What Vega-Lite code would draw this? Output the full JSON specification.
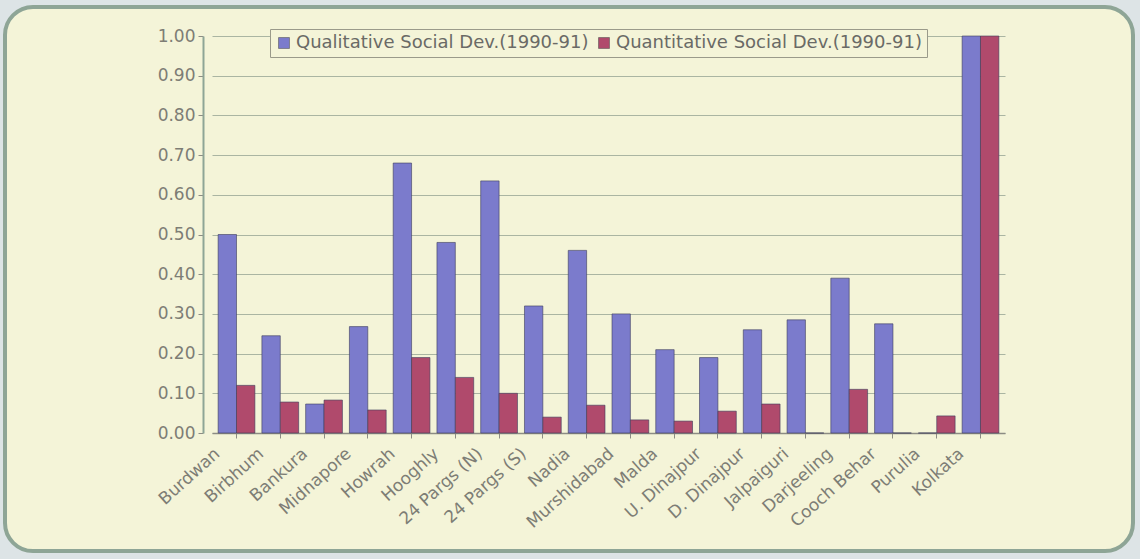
{
  "$schema": "https://vega.github.io/schema/vega-lite/v6.json",
  "width": 1128,
  "height": 544,
  "autosize": {"type": "none"},
  "padding": {"left": 5, "top": 7, "right": 7, "bottom": 8},
  "background": "#dde4e6",
  "config": {
    "view": {"fill": "#f4f4d8", "stroke": "#8ea596", "strokeWidth": 4, "cornerRadius": 28},
    "font": "DejaVu Sans"
  },
  "data": {
    "values": [
      {"district": "Burdwan", "series": "Qualitative Social Dev.(1990-91)", "value": 0.50},
      {"district": "Burdwan", "series": "Quantitative Social Dev.(1990-91)", "value": 0.12},
      {"district": "Birbhum", "series": "Qualitative Social Dev.(1990-91)", "value": 0.245},
      {"district": "Birbhum", "series": "Quantitative Social Dev.(1990-91)", "value": 0.078},
      {"district": "Bankura", "series": "Qualitative Social Dev.(1990-91)", "value": 0.073},
      {"district": "Bankura", "series": "Quantitative Social Dev.(1990-91)", "value": 0.083},
      {"district": "Midnapore", "series": "Qualitative Social Dev.(1990-91)", "value": 0.268},
      {"district": "Midnapore", "series": "Quantitative Social Dev.(1990-91)", "value": 0.058},
      {"district": "Howrah", "series": "Qualitative Social Dev.(1990-91)", "value": 0.68},
      {"district": "Howrah", "series": "Quantitative Social Dev.(1990-91)", "value": 0.19},
      {"district": "Hooghly", "series": "Qualitative Social Dev.(1990-91)", "value": 0.48},
      {"district": "Hooghly", "series": "Quantitative Social Dev.(1990-91)", "value": 0.14},
      {"district": "24 Pargs (N)", "series": "Qualitative Social Dev.(1990-91)", "value": 0.635},
      {"district": "24 Pargs (N)", "series": "Quantitative Social Dev.(1990-91)", "value": 0.10},
      {"district": "24 Pargs (S)", "series": "Qualitative Social Dev.(1990-91)", "value": 0.32},
      {"district": "24 Pargs (S)", "series": "Quantitative Social Dev.(1990-91)", "value": 0.04},
      {"district": "Nadia", "series": "Qualitative Social Dev.(1990-91)", "value": 0.46},
      {"district": "Nadia", "series": "Quantitative Social Dev.(1990-91)", "value": 0.07},
      {"district": "Murshidabad", "series": "Qualitative Social Dev.(1990-91)", "value": 0.30},
      {"district": "Murshidabad", "series": "Quantitative Social Dev.(1990-91)", "value": 0.033},
      {"district": "Malda", "series": "Qualitative Social Dev.(1990-91)", "value": 0.21},
      {"district": "Malda", "series": "Quantitative Social Dev.(1990-91)", "value": 0.03},
      {"district": "U. Dinajpur", "series": "Qualitative Social Dev.(1990-91)", "value": 0.19},
      {"district": "U. Dinajpur", "series": "Quantitative Social Dev.(1990-91)", "value": 0.055},
      {"district": "D. Dinajpur", "series": "Qualitative Social Dev.(1990-91)", "value": 0.26},
      {"district": "D. Dinajpur", "series": "Quantitative Social Dev.(1990-91)", "value": 0.073},
      {"district": "Jalpaiguri", "series": "Qualitative Social Dev.(1990-91)", "value": 0.285},
      {"district": "Jalpaiguri", "series": "Quantitative Social Dev.(1990-91)", "value": 0.0},
      {"district": "Darjeeling", "series": "Qualitative Social Dev.(1990-91)", "value": 0.39},
      {"district": "Darjeeling", "series": "Quantitative Social Dev.(1990-91)", "value": 0.11},
      {"district": "Cooch Behar", "series": "Qualitative Social Dev.(1990-91)", "value": 0.275},
      {"district": "Cooch Behar", "series": "Quantitative Social Dev.(1990-91)", "value": 0.0},
      {"district": "Purulia", "series": "Qualitative Social Dev.(1990-91)", "value": 0.0},
      {"district": "Purulia", "series": "Quantitative Social Dev.(1990-91)", "value": 0.043},
      {"district": "Kolkata", "series": "Qualitative Social Dev.(1990-91)", "value": 1.0},
      {"district": "Kolkata", "series": "Quantitative Social Dev.(1990-91)", "value": 1.0}
    ]
  },
  "mark": {"type": "bar", "stroke": "#3c3c5a", "strokeWidth": 0.6},
  "encoding": {
    "x": {
      "field": "district",
      "type": "nominal",
      "sort": null,
      "scale": {"range": [207, 1000], "paddingInner": 0.16, "paddingOuter": 0.14},
      "axis": {
        "title": null,
        "offset": -118,
        "labelAngle": -42,
        "labelAlign": "right",
        "labelBaseline": "middle",
        "labelOffset": -19,
        "labelPadding": 13,
        "labelFontSize": 17,
        "labelColor": "#7d7d75",
        "domainColor": "#8c8c84",
        "domainWidth": 1.5,
        "tickColor": "#8c8c84",
        "tickSize": 5,
        "grid": false
      }
    },
    "xOffset": {
      "field": "series",
      "sort": ["Qualitative Social Dev.(1990-91)", "Quantitative Social Dev.(1990-91)"]
    },
    "y": {
      "field": "value",
      "type": "quantitative",
      "scale": {"domain": [0, 1], "range": [426, 29], "nice": false, "zero": true},
      "axis": {
        "title": null,
        "offset": -198,
        "values": [0, 0.1, 0.2, 0.3, 0.4, 0.5, 0.6, 0.7, 0.8, 0.9, 1.0],
        "format": ".2f",
        "labelFontSize": 17,
        "labelColor": "#7d7d75",
        "labelPadding": 3,
        "tickSize": 5,
        "tickColor": "#8c8c84",
        "domainColor": "#8ea596",
        "domainWidth": 2,
        "grid": true,
        "gridColor": "#aab5a2",
        "gridWidth": 1
      }
    },
    "color": {
      "field": "series",
      "type": "nominal",
      "scale": {
        "domain": ["Qualitative Social Dev.(1990-91)", "Quantitative Social Dev.(1990-91)"],
        "range": ["#7b7bcc", "#b04a6c"]
      },
      "legend": {
        "orient": "none",
        "legendX": 265,
        "legendY": 22,
        "direction": "horizontal",
        "title": null,
        "fillColor": "#f4f4d8",
        "strokeColor": "#9a9a8a",
        "padding": 5,
        "labelFontSize": 18,
        "labelColor": "#6a6a66",
        "symbolType": "square",
        "symbolSize": 120,
        "symbolStrokeColor": "#444",
        "symbolStrokeWidth": 0.5,
        "columnPadding": 6,
        "labelOffset": 3,
        "labelLimit": 400
      }
    }
  }
}
